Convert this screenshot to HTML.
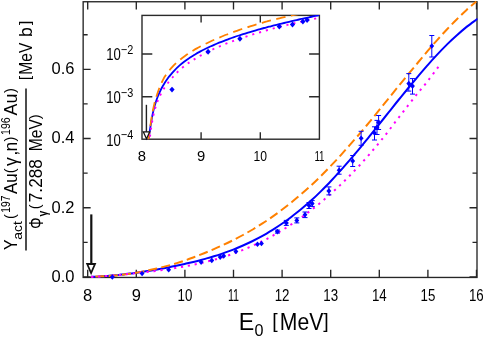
<!DOCTYPE html><html><head><meta charset="utf-8"><style>svg{will-change:transform}html,body{margin:0;padding:0;background:#fff}body{width:483px;height:338px;overflow:hidden}</style></head><body><svg width="483" height="338" viewBox="0 0 483 338" style="display:block" font-family="Liberation Sans, sans-serif" fill="#000">
<rect width="483" height="338" fill="#fff"/>
<defs><clipPath id="cm"><rect x="83" y="1" width="394.6" height="277.4"/></clipPath><clipPath id="ci"><rect x="141.7" y="14.9" width="178.3" height="124.3"/></clipPath></defs>
<g stroke="#262626" stroke-width="1.35" fill="none">
<rect x="83.15" y="1.75" width="393.85" height="275.7"/>
<path d="M87.7 277.45v-7.8M87.7 1.8v7.8"/>
<path d="M136.3 277.45v-7.8M136.3 1.8v7.8"/>
<path d="M184.9 277.45v-7.8M184.9 1.8v7.8"/>
<path d="M233.5 277.45v-7.8M233.5 1.8v7.8"/>
<path d="M282.1 277.45v-7.8M282.1 1.8v7.8"/>
<path d="M330.7 277.45v-7.8M330.7 1.8v7.8"/>
<path d="M379.3 277.45v-7.8M379.3 1.8v7.8"/>
<path d="M427.9 277.45v-7.8M427.9 1.8v7.8"/>
<path d="M476.5 277.45v-7.8M476.5 1.8v7.8"/>
<path d="M83.15 276.9h7.5M477 276.9h-7.5"/>
<path d="M83.15 242.3h4.5M477 242.3h-4.5"/>
<path d="M83.15 207.7h7.5M477 207.7h-7.5"/>
<path d="M83.15 173.1h4.5M477 173.1h-4.5"/>
<path d="M83.15 138.5h7.5M477 138.5h-7.5"/>
<path d="M83.15 103.9h4.5M477 103.9h-4.5"/>
<path d="M83.15 69.3h7.5M477 69.3h-7.5"/>
<path d="M83.15 34.7h4.5M477 34.7h-4.5"/>
</g>
<g stroke="#2a2a2a" stroke-width="1.4" fill="none">
<rect x="142" y="15.4" width="177.4" height="123.8"/>
<path d="M201.1 139.2v-7M201.1 15.5v7"/>
<path d="M260.3 139.2v-7M260.3 15.5v7"/>
<path d="M142 54.0h10.3M319.4 54.0h-10.3"/>
<path d="M142 96.8h10.3M319.4 96.8h-10.3"/>
</g>
<g clip-path="url(#cm)" fill="none" stroke-linecap="butt">
<path d="M90.9 276.7 C91.6 276.7 93.6 276.7 95.0 276.7 C96.4 276.7 97.7 276.6 99.1 276.5 C100.5 276.4 101.8 276.3 103.2 276.2 C104.6 276.1 105.9 276.0 107.3 275.9 C108.7 275.8 110.0 275.7 111.4 275.6 C112.8 275.5 114.2 275.4 115.6 275.3 C117.0 275.2 118.3 275.0 119.7 274.8 C121.1 274.6 122.4 274.6 123.8 274.4 C125.2 274.2 126.5 274.0 127.9 273.8 C129.3 273.6 130.6 273.6 132.0 273.4 C133.4 273.2 133.8 273.1 136.1 272.8 C138.4 272.5 142.6 271.8 145.8 271.3 C149.0 270.8 152.2 270.3 155.5 269.7 C158.8 269.1 162.1 268.5 165.3 267.9 C168.6 267.3 171.8 266.8 175.0 266.1 C178.2 265.4 181.5 264.6 184.7 263.9 C187.9 263.2 191.2 262.5 194.4 261.7 C197.6 260.9 200.8 260.0 204.1 259.1 C207.3 258.2 210.7 257.3 213.9 256.3 C217.2 255.3 220.4 254.2 223.6 253.1 C226.8 252.0 230.1 250.9 233.3 249.6 C236.5 248.3 239.8 246.9 243.0 245.5 C246.2 244.1 249.4 242.6 252.7 241.0 C255.9 239.4 259.2 237.7 262.5 235.9 C265.8 234.1 269.0 232.1 272.2 230.1 C275.4 228.1 278.7 226.0 281.9 223.8 C285.1 221.6 288.4 219.2 291.6 216.7 C294.8 214.2 298.1 211.7 301.3 209.0 C304.6 206.3 307.9 203.5 311.1 200.6 C314.4 197.7 317.6 194.6 320.8 191.4 C324.0 188.2 327.3 184.9 330.5 181.5 C333.7 178.1 337.0 174.5 340.2 170.9 C343.4 167.3 346.6 163.6 349.9 159.8 C353.1 156.0 356.4 152.2 359.7 148.3 C362.9 144.4 366.2 140.4 369.4 136.4 C372.6 132.4 375.9 128.3 379.1 124.3 C382.3 120.3 385.6 116.2 388.8 112.2 C392.0 108.2 395.2 104.0 398.5 100.0 C401.8 96.0 405.1 91.9 408.3 88.0 C411.6 84.1 414.8 80.2 418.0 76.4 C421.2 72.6 424.5 68.8 427.7 65.1 C430.9 61.4 434.2 57.8 437.4 54.4 C440.6 51.0 443.9 47.6 447.1 44.4 C450.4 41.2 453.6 38.2 456.9 35.3 C460.1 32.4 463.4 29.5 466.6 26.9 C469.8 24.3 474.4 21.1 476.3 19.7 C478.2 18.3 477.6 18.9 477.8 18.7" stroke="#0000ff" stroke-width="2"/>
<path d="M90.9 276.4 C91.6 276.4 93.6 276.4 95.0 276.4 C96.4 276.4 97.7 276.4 99.1 276.4 C100.5 276.4 101.8 276.2 103.2 276.2 C104.6 276.1 105.9 276.2 107.3 276.1 C108.7 276.0 110.0 275.8 111.4 275.7 C112.8 275.6 114.2 275.5 115.6 275.4 C117.0 275.3 118.3 275.1 119.7 275.0 C121.1 274.9 122.4 274.8 123.8 274.6 C125.2 274.4 126.5 274.2 127.9 274.0 C129.3 273.8 130.6 273.6 132.0 273.4 C133.4 273.2 133.8 273.1 136.1 272.7 C138.4 272.3 142.6 271.6 145.8 271.0 C149.0 270.4 152.2 269.6 155.5 268.8 C158.8 268.0 162.1 267.2 165.3 266.4 C168.6 265.5 171.8 264.7 175.0 263.7 C178.2 262.7 181.5 261.7 184.7 260.6 C187.9 259.5 191.2 258.2 194.4 257.0 C197.6 255.8 200.8 254.5 204.1 253.2 C207.3 251.9 210.7 250.5 213.9 249.1 C217.2 247.7 220.4 246.3 223.6 244.8 C226.8 243.3 230.1 241.7 233.3 240.1 C236.5 238.5 239.8 236.8 243.0 235.0 C246.2 233.2 249.4 231.4 252.7 229.5 C255.9 227.6 259.2 225.5 262.5 223.4 C265.8 221.3 269.0 219.2 272.2 216.9 C275.4 214.6 278.7 212.2 281.9 209.8 C285.1 207.4 288.4 204.8 291.6 202.2 C294.8 199.6 298.1 196.9 301.3 194.1 C304.6 191.3 307.9 188.4 311.1 185.4 C314.4 182.4 317.6 179.3 320.8 176.1 C324.0 172.9 327.3 169.6 330.5 166.2 C333.7 162.8 337.0 159.4 340.2 155.8 C343.4 152.2 346.6 148.6 349.9 144.9 C353.1 141.2 356.4 137.5 359.7 133.7 C362.9 129.9 366.2 126.0 369.4 122.1 C372.6 118.2 375.9 114.2 379.1 110.2 C382.3 106.2 385.6 102.2 388.8 98.2 C392.0 94.2 395.2 90.2 398.5 86.2 C401.8 82.2 405.1 78.2 408.3 74.2 C411.6 70.2 414.8 66.4 418.0 62.5 C421.2 58.6 424.5 54.7 427.7 50.9 C430.9 47.1 434.2 43.4 437.4 39.8 C440.6 36.2 443.9 32.6 447.1 29.2 C450.4 25.8 453.6 22.4 456.9 19.2 C460.1 16.0 463.4 12.8 466.6 9.9 C469.8 7.0 474.7 3.0 476.3 1.6" stroke="#ff8000" stroke-width="2" stroke-dasharray="9.1 4.23" stroke-dashoffset="8.85"/>
<path d="M90.9 277.0 C91.6 276.9 93.6 276.8 95.0 276.7 C96.4 276.6 97.7 276.7 99.1 276.6 C100.5 276.5 101.8 276.4 103.2 276.3 C104.6 276.2 105.9 276.0 107.3 275.9 C108.7 275.8 110.0 275.7 111.4 275.6 C112.8 275.5 114.2 275.4 115.6 275.3 C117.0 275.2 118.3 275.0 119.7 274.9 C121.1 274.8 122.4 274.6 123.8 274.5 C125.2 274.4 126.5 274.2 127.9 274.1 C129.3 274.0 130.6 273.9 132.0 273.7 C133.4 273.5 133.8 273.5 136.1 273.2 C138.4 272.9 142.6 272.5 145.8 272.1 C149.0 271.7 152.2 271.4 155.5 271.0 C158.8 270.6 162.1 270.1 165.3 269.6 C168.6 269.1 171.8 268.6 175.0 268.1 C178.2 267.6 181.5 267.0 184.7 266.4 C187.9 265.8 191.2 265.2 194.4 264.5 C197.6 263.8 200.8 263.1 204.1 262.3 C207.3 261.5 210.7 260.7 213.9 259.8 C217.2 258.9 220.4 257.9 223.6 256.9 C226.8 255.9 230.1 254.8 233.3 253.6 C236.5 252.4 239.8 251.2 243.0 249.9 C246.2 248.6 249.4 247.3 252.7 245.8 C255.9 244.3 259.2 242.7 262.5 241.1 C265.8 239.5 269.0 237.8 272.2 236.0 C275.4 234.2 278.7 232.4 281.9 230.4 C285.1 228.4 288.4 226.3 291.6 224.2 C294.8 222.0 298.1 219.8 301.3 217.5 C304.6 215.2 307.9 212.7 311.1 210.2 C314.4 207.7 317.6 205.1 320.8 202.4 C324.0 199.7 327.3 196.9 330.5 194.0 C333.7 191.1 337.0 188.2 340.2 185.1 C343.4 182.0 346.6 178.8 349.9 175.5 C353.1 172.2 356.4 168.7 359.7 165.2 C362.9 161.7 366.2 158.0 369.4 154.3 C372.6 150.6 375.9 146.8 379.1 142.8 C382.3 138.9 385.6 134.8 388.8 130.6 C392.0 126.4 395.2 122.1 398.5 117.9 C401.8 113.7 405.1 109.4 408.3 105.2 C411.6 101.0 414.8 96.9 418.0 92.9 C421.2 88.9 424.5 85.2 427.7 81.1 C430.9 77.0 435.6 70.6 437.4 68.2 C439.2 65.8 438.1 67.3 438.4 66.8 C438.7 66.3 439.1 65.6 439.3 65.4" stroke="#ff00ff" stroke-width="2" stroke-dasharray="2.2 4.75" stroke-dashoffset="6.65"/>
</g>
<g clip-path="url(#ci)" fill="none">
<path d="M148.2 141.0 C148.3 140.3 148.6 138.3 148.8 137.0 C149.0 135.7 149.3 134.3 149.5 133.0 C149.7 131.7 149.9 130.3 150.1 129.0 C150.3 127.7 150.5 126.3 150.7 125.0 C150.9 123.7 151.2 122.3 151.4 121.0 C151.6 119.7 151.8 118.3 152.1 117.0 C152.3 115.7 152.6 114.3 152.9 113.0 C153.2 111.7 153.5 110.3 153.8 109.0 C154.1 107.7 154.5 106.3 154.9 105.0 C155.3 103.7 155.8 102.3 156.2 101.0 C156.6 99.7 157.1 98.3 157.6 97.0 C158.1 95.7 158.7 94.3 159.3 93.0 C159.9 91.7 160.5 90.3 161.2 89.0 C161.9 87.7 162.6 86.3 163.4 85.0 C164.2 83.7 165.0 82.3 165.9 81.0 C166.8 79.7 168.2 77.7 168.7 77.0 C169.2 76.3 168.2 77.6 169.1 76.6 C170.0 75.6 172.4 72.6 174.1 70.8 C175.8 69.0 177.4 67.4 179.1 65.9 C180.8 64.4 182.4 63.1 184.1 61.8 C185.8 60.5 187.4 59.3 189.1 58.2 C190.8 57.1 192.4 56.0 194.1 55.0 C195.8 54.0 197.4 53.0 199.1 52.1 C200.8 51.2 202.4 50.3 204.1 49.5 C205.8 48.7 207.4 47.9 209.1 47.1 C210.8 46.3 212.4 45.5 214.1 44.8 C215.8 44.1 217.4 43.4 219.1 42.7 C220.8 42.0 222.4 41.4 224.1 40.8 C225.8 40.2 227.4 39.5 229.1 38.9 C230.8 38.3 232.4 37.7 234.1 37.1 C235.8 36.5 237.4 36.0 239.1 35.5 C240.8 35.0 242.4 34.4 244.1 33.9 C245.8 33.4 247.4 32.8 249.1 32.3 C250.8 31.8 252.4 31.3 254.1 30.8 C255.8 30.3 257.4 29.9 259.1 29.4 C260.8 28.9 262.4 28.4 264.1 28.0 C265.8 27.6 267.4 27.1 269.1 26.7 C270.8 26.3 272.4 25.8 274.1 25.4 C275.8 25.0 277.4 24.6 279.1 24.2 C280.8 23.8 282.4 23.4 284.1 23.0 C285.8 22.6 287.4 22.2 289.1 21.8 C290.8 21.4 292.4 21.0 294.1 20.6 C295.8 20.2 297.4 19.9 299.1 19.5 C300.8 19.1 302.4 18.8 304.1 18.4 C305.8 18.0 307.4 17.7 309.1 17.3 C310.8 16.9 312.4 16.6 314.1 16.2 C315.8 15.8 318.3 15.4 319.1 15.2" stroke="#0000ff" stroke-width="1.8"/>
<path d="M148.2 141.0 C148.3 140.3 148.6 138.3 148.8 137.0 C149.0 135.7 149.1 134.3 149.3 133.0 C149.5 131.7 149.7 130.3 149.9 129.0 C150.1 127.7 150.3 126.3 150.5 125.0 C150.7 123.7 150.9 122.3 151.1 121.0 C151.3 119.7 151.5 118.3 151.7 117.0 C151.9 115.7 152.2 114.3 152.4 113.0 C152.7 111.7 152.9 110.3 153.2 109.0 C153.5 107.7 153.8 106.3 154.1 105.0 C154.4 103.7 154.7 102.3 155.1 101.0 C155.5 99.7 155.9 98.3 156.3 97.0 C156.7 95.7 157.2 94.3 157.6 93.0 C158.0 91.7 158.5 90.3 159.0 89.0 C159.5 87.7 160.0 86.3 160.6 85.0 C161.2 83.7 161.8 82.3 162.5 81.0 C163.2 79.7 163.8 78.2 164.5 77.0 C165.2 75.8 165.7 75.1 166.9 73.5 C168.1 71.9 170.2 69.2 171.9 67.3 C173.6 65.4 175.2 63.8 176.9 62.3 C178.6 60.8 180.2 59.5 181.9 58.2 C183.6 56.9 185.2 55.8 186.9 54.6 C188.6 53.5 190.2 52.3 191.9 51.3 C193.6 50.3 195.2 49.3 196.9 48.4 C198.6 47.5 200.2 46.6 201.9 45.7 C203.6 44.8 205.2 44.0 206.9 43.2 C208.6 42.4 210.2 41.6 211.9 40.8 C213.6 40.0 215.2 39.3 216.9 38.6 C218.6 37.9 220.2 37.2 221.9 36.5 C223.6 35.8 225.2 35.1 226.9 34.5 C228.6 33.9 230.2 33.2 231.9 32.6 C233.6 32.0 235.2 31.4 236.9 30.8 C238.6 30.2 240.2 29.6 241.9 29.0 C243.6 28.4 245.2 27.9 246.9 27.4 C248.6 26.9 250.2 26.3 251.9 25.8 C253.6 25.3 255.2 24.8 256.9 24.3 C258.6 23.8 260.2 23.3 261.9 22.8 C263.6 22.3 265.2 21.8 266.9 21.4 C268.6 20.9 270.2 20.5 271.9 20.1 C273.6 19.7 275.2 19.3 276.9 18.9 C278.6 18.5 280.2 18.1 281.9 17.7 C283.6 17.3 285.2 16.9 286.9 16.5 C288.6 16.1 290.2 15.8 291.9 15.4 C293.6 15.1 295.2 14.7 296.9 14.4 C298.6 14.1 300.2 13.7 301.9 13.4 C303.6 13.1 305.2 12.7 306.9 12.4 C308.6 12.1 311.1 11.7 311.9 11.5" stroke="#ff8000" stroke-width="1.8" stroke-dasharray="9.5 5.5"/>
<path d="M149.3 141.0 C149.4 140.3 149.7 138.3 149.9 137.0 C150.1 135.7 150.3 134.3 150.5 133.0 C150.7 131.7 150.8 130.3 151.0 129.0 C151.2 127.7 151.4 126.3 151.6 125.0 C151.8 123.7 152.1 122.3 152.3 121.0 C152.6 119.7 152.8 118.3 153.1 117.0 C153.4 115.7 153.6 114.3 153.9 113.0 C154.2 111.7 154.6 110.3 155.0 109.0 C155.4 107.7 155.8 106.3 156.2 105.0 C156.6 103.7 157.2 102.3 157.7 101.0 C158.2 99.7 158.8 98.3 159.4 97.0 C160.0 95.7 160.7 94.3 161.4 93.0 C162.1 91.7 162.9 90.3 163.7 89.0 C164.5 87.7 165.4 86.3 166.4 85.0 C167.4 83.7 168.3 82.3 169.4 81.0 C170.5 79.7 171.8 78.3 172.9 77.0 C174.0 75.7 174.7 74.8 176.1 73.4 C177.5 72.0 179.4 70.2 181.1 68.8 C182.8 67.4 184.4 66.0 186.1 64.8 C187.8 63.5 189.4 62.4 191.1 61.3 C192.8 60.2 194.4 59.2 196.1 58.2 C197.8 57.2 199.4 56.2 201.1 55.3 C202.8 54.4 204.4 53.5 206.1 52.6 C207.8 51.8 209.4 51.0 211.1 50.2 C212.8 49.4 214.4 48.6 216.1 47.9 C217.8 47.1 219.4 46.4 221.1 45.7 C222.8 45.0 224.4 44.4 226.1 43.7 C227.8 43.1 229.4 42.4 231.1 41.8 C232.8 41.2 234.4 40.6 236.1 40.0 C237.8 39.4 239.4 38.8 241.1 38.2 C242.8 37.6 244.4 37.1 246.1 36.6 C247.8 36.1 249.4 35.5 251.1 35.0 C252.8 34.5 254.4 33.9 256.1 33.4 C257.8 32.9 259.4 32.5 261.1 32.0 C262.8 31.5 264.4 31.0 266.1 30.5 C267.8 30.0 269.4 29.6 271.1 29.1 C272.8 28.7 274.4 28.2 276.1 27.8 C277.8 27.4 279.4 26.9 281.1 26.5 C282.8 26.1 284.4 25.7 286.1 25.3 C287.8 24.9 289.4 24.4 291.1 24.0 C292.8 23.6 294.4 23.2 296.1 22.8 C297.8 22.4 299.4 22.1 301.1 21.7 C302.8 21.3 304.4 20.9 306.1 20.5 C307.8 20.1 309.4 19.8 311.1 19.4 C312.8 19.0 314.4 18.8 316.1 18.4 C317.8 18.0 320.3 17.5 321.1 17.3" stroke="#ff00ff" stroke-width="1.9" stroke-dasharray="2.1 5" stroke-dashoffset="2.7"/>
</g>
<path d="M109.8 277.0 L112.3 274.2 L114.8 277.0 L112.3 279.8Z" fill="#0000ff"/>
<path d="M139.7 273.5 L142.1 270.7 L144.5 273.5 L142.1 276.3Z" fill="#0000ff"/>
<path d="M166.2 269.8 L168.7 267.0 L171.1 269.8 L168.7 272.6Z" fill="#0000ff"/>
<path d="M198.7 262.1 L201.1 259.3 L203.5 262.1 L201.1 264.9Z" fill="#0000ff"/>
<path d="M209.4 260.4 L211.8 257.6 L214.2 260.4 L211.8 263.2Z" fill="#0000ff"/>
<path d="M217.8 257.1 L220.2 254.3 L222.6 257.1 L220.2 259.9Z" fill="#0000ff"/>
<path d="M221.2 255.9 L223.7 253.1 L226.1 255.9 L223.7 258.7Z" fill="#0000ff"/>
<path d="M233.5 251.4 L235.9 248.6 L238.3 251.4 L235.9 254.2Z" fill="#0000ff"/>
<path d="M255.1 244.2 L257.5 241.4 L259.9 244.2 L257.5 247.0Z" fill="#0000ff"/>
<path d="M259.1 243.5 L261.5 240.7 L263.9 243.5 L261.5 246.3Z" fill="#0000ff"/>
<path d="M277.4 230.1V233.1M274.9 230.1h5M274.9 233.1h5" stroke="#0000ff" stroke-width="1" fill="none"/>
<path d="M274.9 231.6 L277.4 228.8 L279.8 231.6 L277.4 234.4Z" fill="#0000ff"/>
<path d="M286.3 220.4V225.4M283.8 220.4h5M283.8 225.4h5" stroke="#0000ff" stroke-width="1" fill="none"/>
<path d="M283.9 222.9 L286.3 220.1 L288.8 222.9 L286.3 225.7Z" fill="#0000ff"/>
<path d="M296.8 217.9V222.9M294.3 217.9h5M294.3 222.9h5" stroke="#0000ff" stroke-width="1" fill="none"/>
<path d="M294.4 220.4 L296.8 217.6 L299.2 220.4 L296.8 223.2Z" fill="#0000ff"/>
<path d="M305.0 212.0V217.6M302.5 212.0h5M302.5 217.6h5" stroke="#0000ff" stroke-width="1" fill="none"/>
<path d="M302.6 214.8 L305.0 212.0 L307.4 214.8 L305.0 217.6Z" fill="#0000ff"/>
<path d="M309.0 202.5V208.5M306.5 202.5h5M306.5 208.5h5" stroke="#0000ff" stroke-width="1" fill="none"/>
<path d="M306.6 205.5 L309.0 202.7 L311.4 205.5 L309.0 208.3Z" fill="#0000ff"/>
<path d="M312.2 200.6V206.6M309.7 200.6h5M309.7 206.6h5" stroke="#0000ff" stroke-width="1" fill="none"/>
<path d="M309.8 203.6 L312.2 200.8 L314.6 203.6 L312.2 206.4Z" fill="#0000ff"/>
<path d="M328.9 186.9V194.9M326.4 186.9h5M326.4 194.9h5" stroke="#0000ff" stroke-width="1" fill="none"/>
<path d="M326.4 190.9 L328.9 188.1 L331.3 190.9 L328.9 193.7Z" fill="#0000ff"/>
<path d="M339.1 166.2V174.2M336.6 166.2h5M336.6 174.2h5" stroke="#0000ff" stroke-width="1" fill="none"/>
<path d="M336.7 170.2 L339.1 167.4 L341.6 170.2 L339.1 173.0Z" fill="#0000ff"/>
<path d="M352.7 155.5V166.5M350.2 155.5h5M350.2 166.5h5" stroke="#0000ff" stroke-width="1" fill="none"/>
<path d="M350.2 161.0 L352.7 158.2 L355.1 161.0 L352.7 163.8Z" fill="#0000ff"/>
<path d="M361.1 131.3V145.3M358.6 131.3h5M358.6 145.3h5" stroke="#0000ff" stroke-width="1" fill="none"/>
<path d="M358.7 138.3 L361.1 135.5 L363.6 138.3 L361.1 141.1Z" fill="#0000ff"/>
<path d="M374.5 126.8V140.0M372.0 126.8h5M372.0 140.0h5" stroke="#0000ff" stroke-width="1" fill="none"/>
<path d="M372.1 133.0 L374.5 130.2 L376.9 133.0 L374.5 135.8Z" fill="#0000ff"/>
<path d="M377.0 120.4V134.5M374.5 120.4h5M374.5 134.5h5" stroke="#0000ff" stroke-width="1" fill="none"/>
<path d="M374.6 127.3 L377.0 124.5 L379.4 127.3 L377.0 130.1Z" fill="#0000ff"/>
<path d="M378.6 115.5V129.5M376.1 115.5h5M376.1 129.5h5" stroke="#0000ff" stroke-width="1" fill="none"/>
<path d="M376.2 122.5 L378.6 119.7 L381.1 122.5 L378.6 125.3Z" fill="#0000ff"/>
<path d="M408.8 73.6V91.1M406.3 73.6h5M406.3 91.1h5" stroke="#0000ff" stroke-width="1" fill="none"/>
<path d="M406.4 83.6 L408.8 80.8 L411.2 83.6 L408.8 86.4Z" fill="#0000ff"/>
<path d="M412.5 78.6V94.1M410.0 78.6h5M410.0 94.1h5" stroke="#0000ff" stroke-width="1" fill="none"/>
<path d="M410.1 86.1 L412.5 83.3 L414.9 86.1 L412.5 88.9Z" fill="#0000ff"/>
<path d="M431.8 35.5V57.0M429.3 35.5h5M429.3 57.0h5" stroke="#0000ff" stroke-width="1" fill="none"/>
<path d="M429.4 46.0 L431.8 43.2 L434.2 46.0 L431.8 48.8Z" fill="#0000ff"/>
<path d="M169.4 89.6 L172.0 86.7 L174.6 89.6 L172.0 92.5Z" fill="#0000ff"/>
<path d="M205.5 51.8 L208.1 48.8 L210.7 51.8 L208.1 54.8Z" fill="#0000ff"/>
<path d="M237.3 38.7 L239.9 35.8 L242.5 38.7 L239.9 41.7Z" fill="#0000ff"/>
<path d="M276.7 26.6 L279.3 23.6 L281.9 26.6 L279.3 29.6Z" fill="#0000ff"/>
<path d="M289.9 24.6 L292.5 21.6 L295.1 24.6 L292.5 27.6Z" fill="#0000ff"/>
<path d="M300.3 21.5 L302.9 18.5 L305.5 21.5 L302.9 24.5Z" fill="#0000ff"/>
<path d="M304.5 20.1 L307.1 17.1 L309.7 20.1 L307.1 23.1Z" fill="#0000ff"/>
<path d="M91.3 214.4V264" stroke="#111" stroke-width="2.2" fill="none"/>
<path d="M87.2 264h7.8l-3.9 9z" stroke="#111" stroke-width="1.8" fill="#fff"/>
<path d="M146.4 104.8V132" stroke="#222" stroke-width="1.4" fill="none"/>
<path d="M143.3 131.8h6.4l-3.2 7z" stroke="#111" stroke-width="1.2" fill="#fff"/>
<text x="87.7" y="301.3" font-size="16.5" text-anchor="middle">8</text>
<text x="136.3" y="301.3" font-size="16.5" text-anchor="middle">9</text>
<text x="184.9" y="301.3" font-size="16.5" text-anchor="middle" textLength="14.8" lengthAdjust="spacingAndGlyphs">10</text>
<text x="233.5" y="301.3" font-size="16.5" text-anchor="middle" textLength="11.2" lengthAdjust="spacingAndGlyphs">11</text>
<text x="282.1" y="301.3" font-size="16.5" text-anchor="middle" textLength="14.8" lengthAdjust="spacingAndGlyphs">12</text>
<text x="330.7" y="301.3" font-size="16.5" text-anchor="middle" textLength="14.8" lengthAdjust="spacingAndGlyphs">13</text>
<text x="379.3" y="301.3" font-size="16.5" text-anchor="middle" textLength="14.8" lengthAdjust="spacingAndGlyphs">14</text>
<text x="427.9" y="301.3" font-size="16.5" text-anchor="middle" textLength="14.8" lengthAdjust="spacingAndGlyphs">15</text>
<text x="476.3" y="301.3" font-size="16.5" text-anchor="middle" textLength="14.8" lengthAdjust="spacingAndGlyphs">16</text>
<text x="74.5" y="281.8" font-size="16.5" text-anchor="end">0.0</text>
<text x="74.5" y="212.6" font-size="16.5" text-anchor="end">0.2</text>
<text x="74.5" y="143.4" font-size="16.5" text-anchor="end">0.4</text>
<text x="74.5" y="74.2" font-size="16.5" text-anchor="end">0.6</text>
<text x="141.9" y="161.2" font-size="14.8" text-anchor="middle">8</text>
<text x="201.1" y="161.2" font-size="14.8" text-anchor="middle">9</text>
<text x="260.3" y="161.2" font-size="14.8" text-anchor="middle" textLength="13.5" lengthAdjust="spacingAndGlyphs">10</text>
<text x="319.5" y="161.2" font-size="14.8" text-anchor="middle" textLength="10.2" lengthAdjust="spacingAndGlyphs">11</text>
<text x="106.3" y="60.3" font-size="17.0" textLength="14.6" lengthAdjust="spacingAndGlyphs">10</text>
<text x="120.8" y="53.7" font-size="12.5" textLength="12.4" lengthAdjust="spacingAndGlyphs">−2</text>
<text x="106.3" y="103.1" font-size="17.0" textLength="14.6" lengthAdjust="spacingAndGlyphs">10</text>
<text x="120.8" y="96.5" font-size="12.5" textLength="12.4" lengthAdjust="spacingAndGlyphs">−3</text>
<text x="106.3" y="145.7" font-size="17.0" textLength="14.6" lengthAdjust="spacingAndGlyphs">10</text>
<text x="120.8" y="139.1" font-size="12.5" textLength="12.4" lengthAdjust="spacingAndGlyphs">−4</text>
<text x="238.7" y="330.2" font-size="23.2">E</text>
<text x="254.4" y="336.4" font-size="16.8" textLength="9.0" lengthAdjust="spacingAndGlyphs">0</text>
<text x="272.3" y="327.7" font-size="19.5">[</text>
<text x="279.8" y="330.2" font-size="23.2" textLength="43.5" lengthAdjust="spacingAndGlyphs">MeV</text>
<text x="323.3" y="327.7" font-size="19.5">]</text>
<g transform="rotate(-90)">
<text x="-250.1" y="16.9" font-size="17.5" textLength="10.6" lengthAdjust="spacingAndGlyphs">Y</text>
<text x="-239.7" y="22.1" font-size="12.5" textLength="18.6" lengthAdjust="spacingAndGlyphs">act</text>
<text x="-219.1" y="14.5" font-size="14.6">(</text>
<text x="-212.7" y="9.9" font-size="12.6" textLength="17.0" lengthAdjust="spacingAndGlyphs">197</text>
<text x="-194.0" y="16.9" font-size="17.5" textLength="20.5" lengthAdjust="spacingAndGlyphs">Au</text>
<text x="-173.2" y="14.5" font-size="14.6">(</text>
<text x="-166.1" y="16.9" font-size="17.5">γ</text>
<text x="-155.6" y="16.9" font-size="17.5">,</text>
<text x="-151.4" y="16.9" font-size="17.5">n</text>
<text x="-141.4" y="14.5" font-size="14.6">)</text>
<text x="-134.9" y="9.9" font-size="12.0" textLength="17.6" lengthAdjust="spacingAndGlyphs">196</text>
<text x="-115.5" y="16.9" font-size="17.5" textLength="21.8" lengthAdjust="spacingAndGlyphs">Au</text>
<text x="-93.1" y="14.5" font-size="14.6">)</text>
<path d="M-250.4 26H-88.6" stroke="#111" stroke-width="1.5"/>
<text x="-228.8" y="43.0" font-size="19.5" textLength="11.2" lengthAdjust="spacingAndGlyphs">Φ</text>
<text x="-216.6" y="46.6" font-size="13.0" textLength="5.8" lengthAdjust="spacingAndGlyphs" font-weight="bold">γ</text>
<text x="-209.3" y="40.0" font-size="14.6">(</text>
<text x="-202.2" y="42.4" font-size="17.5" textLength="43.0" lengthAdjust="spacingAndGlyphs">7.288</text>
<text x="-151.2" y="42.4" font-size="17.5" textLength="32.0" lengthAdjust="spacingAndGlyphs">MeV</text>
<text x="-119.2" y="40.0" font-size="14.6">)</text>
<text x="-79.9" y="29.6" font-size="15.2">[</text>
<text x="-74.7" y="32.0" font-size="17.5" textLength="32.0" lengthAdjust="spacingAndGlyphs">MeV</text>
<text x="-37.0" y="32.0" font-size="17.5">b</text>
<text x="-25.0" y="29.6" font-size="15.2">]</text>
</g>
</svg></body></html>
